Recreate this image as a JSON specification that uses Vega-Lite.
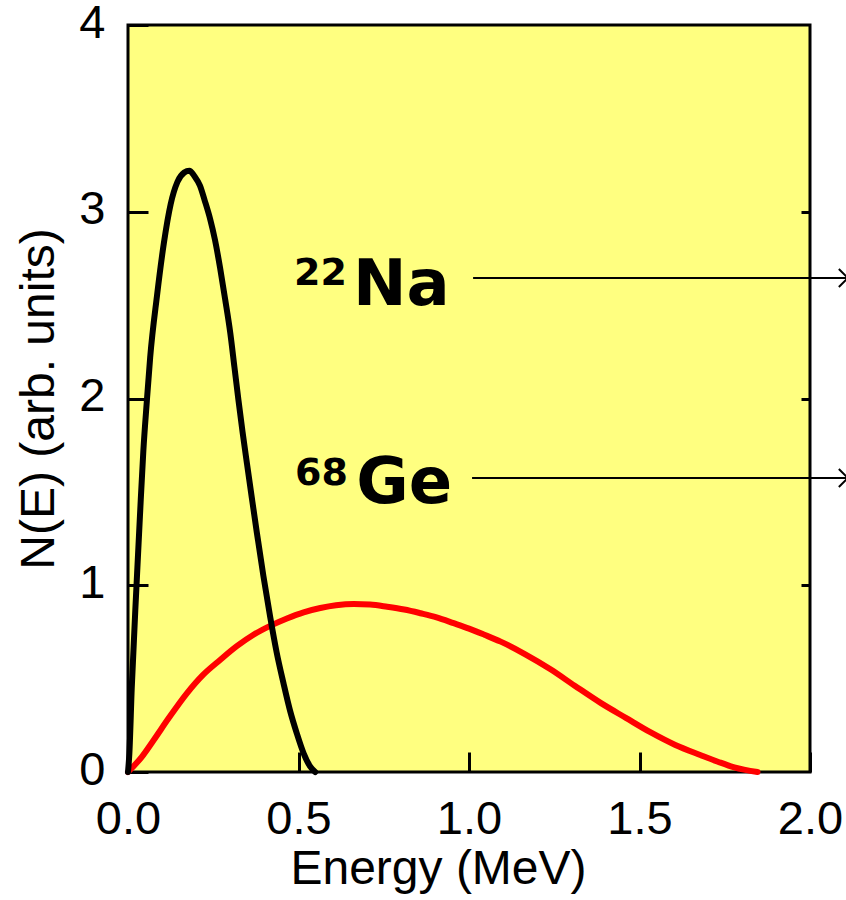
{
  "$schema": "https://vega.github.io/schema/vega-lite/v6.json",
  "width": 682,
  "height": 747,
  "autosize": "none",
  "padding": {"left": 128, "top": 25, "right": 36, "bottom": 128},
  "background": "white",
  "config": {
    "view": {"fill": "#FFFF80", "stroke": "black", "strokeWidth": 3},
    "axis": {
      "grid": false,
      "domain": false,
      "tickColor": "black",
      "tickWidth": 3,
      "labelColor": "black",
      "labelFont": "Liberation Sans",
      "labelFontSize": 47,
      "labelFlush": false,
      "labelOverlap": false,
      "labelBound": false,
      "titleColor": "black",
      "titleFont": "Liberation Sans",
      "titleFontWeight": "normal"
    }
  },
  "datasets": {
    "ge": [
      {"E": 0, "N": 0}, {"E": 0.04, "N": 0.08}, {"E": 0.075, "N": 0.17}, {"E": 0.12, "N": 0.29},
      {"E": 0.172, "N": 0.42}, {"E": 0.22, "N": 0.52}, {"E": 0.27, "N": 0.6}, {"E": 0.32, "N": 0.675},
      {"E": 0.368, "N": 0.735}, {"E": 0.42, "N": 0.785}, {"E": 0.466, "N": 0.822}, {"E": 0.515, "N": 0.855},
      {"E": 0.564, "N": 0.878}, {"E": 0.61, "N": 0.893}, {"E": 0.662, "N": 0.9}, {"E": 0.71, "N": 0.897},
      {"E": 0.76, "N": 0.885}, {"E": 0.81, "N": 0.87}, {"E": 0.858, "N": 0.85}, {"E": 0.905, "N": 0.828},
      {"E": 0.955, "N": 0.797}, {"E": 1.0, "N": 0.768}, {"E": 1.045, "N": 0.735}, {"E": 1.093, "N": 0.698},
      {"E": 1.165, "N": 0.63}, {"E": 1.239, "N": 0.55}, {"E": 1.31, "N": 0.462}, {"E": 1.386, "N": 0.37},
      {"E": 1.46, "N": 0.29}, {"E": 1.533, "N": 0.212}, {"E": 1.605, "N": 0.145}, {"E": 1.68, "N": 0.09},
      {"E": 1.73, "N": 0.055}, {"E": 1.778, "N": 0.025}, {"E": 1.846, "N": 0.0}
    ],
    "na": [
      {"E": 0, "N": 0}, {"E": 0.004, "N": 0.1}, {"E": 0.011, "N": 0.45}, {"E": 0.025, "N": 1.0},
      {"E": 0.035, "N": 1.37}, {"E": 0.045, "N": 1.72}, {"E": 0.055, "N": 1.98}, {"E": 0.065, "N": 2.22},
      {"E": 0.085, "N": 2.55}, {"E": 0.105, "N": 2.83}, {"E": 0.125, "N": 3.04}, {"E": 0.145, "N": 3.16},
      {"E": 0.165, "N": 3.21}, {"E": 0.18, "N": 3.22}, {"E": 0.195, "N": 3.19}, {"E": 0.211, "N": 3.14},
      {"E": 0.225, "N": 3.06}, {"E": 0.241, "N": 2.96}, {"E": 0.255, "N": 2.85}, {"E": 0.27, "N": 2.7},
      {"E": 0.285, "N": 2.53}, {"E": 0.3, "N": 2.35}, {"E": 0.312, "N": 2.17}, {"E": 0.324, "N": 1.99},
      {"E": 0.336, "N": 1.82}, {"E": 0.349, "N": 1.65}, {"E": 0.363, "N": 1.47}, {"E": 0.378, "N": 1.28},
      {"E": 0.397, "N": 1.05}, {"E": 0.417, "N": 0.83}, {"E": 0.436, "N": 0.64}, {"E": 0.456, "N": 0.475},
      {"E": 0.475, "N": 0.33}, {"E": 0.495, "N": 0.207}, {"E": 0.515, "N": 0.1}, {"E": 0.534, "N": 0.03},
      {"E": 0.549, "N": 0}
    ],
    "main": [
      {"text": "Na", "E": 0.66, "N": 2.5},
      {"text": "Ge", "E": 0.669, "N": 1.44}
    ],
    "sup": [
      {"text": "22", "E": 0.487, "N": 2.608},
      {"text": "68", "E": 0.49, "N": 1.537}
    ],
    "arrows": [
      {"label": "22Na", "E1": 1.012, "E2": 2.111, "N": 2.645},
      {"label": "68Ge", "E1": 1.009, "E2": 2.111, "N": 1.574}
    ]
  },
  "layer": [
    {
      "data": {"name": "ge"},
      "mark": {"type": "line", "color": "#FF0000", "strokeWidth": 6, "strokeJoin": "round", "strokeCap": "round", "interpolate": "monotone"},
      "encoding": {
        "x": {
          "field": "E", "type": "quantitative",
          "scale": {"domain": [0, 2], "nice": false, "zero": false},
          "axis": {
            "values": [0, 0.5, 1, 1.5, 2], "format": ".1f",
            "tickSize": -20, "labelBaseline": "alphabetic", "labelPadding": 81,
            "title": "Energy (MeV)", "titleFontSize": 48,
            "titleX": 310, "titleY": 111, "titleBaseline": "alphabetic", "titleAlign": "center"
          }
        },
        "y": {
          "field": "N", "type": "quantitative",
          "scale": {"domain": [0, 4], "nice": false, "zero": false},
          "axis": {
            "values": [0, 1, 2, 3, 4], "format": "d",
            "tickSize": -20, "labelPadding": 43, "labelBaseline": "middle", "labelOffset": -2,
            "title": "N(E) (arb. units)", "titleFontSize": 48,
            "titleX": -75, "titleY": 373.5, "titleBaseline": "alphabetic", "titleAlign": "center", "titleAngle": -90
          }
        }
      }
    },
    {
      "data": {"name": "na"},
      "mark": {"type": "line", "color": "black", "strokeWidth": 6, "strokeJoin": "round", "strokeCap": "round", "interpolate": "monotone"},
      "encoding": {
        "x": {"field": "E", "type": "quantitative"},
        "y": {"field": "N", "type": "quantitative", "axis": null}
      }
    },
    {
      "data": {"name": "arrows"},
      "mark": {"type": "rule", "color": "black", "strokeWidth": 2},
      "encoding": {
        "x": {"field": "E1", "type": "quantitative"},
        "x2": {"field": "E2"},
        "y": {
          "field": "N", "type": "quantitative",
          "axis": {"orient": "right", "values": [1, 2, 3], "tickSize": -9, "labels": false, "title": null}
        }
      }
    },
    {
      "data": {"name": "arrows"},
      "mark": {"type": "point", "shape": "M-1,-1L0,0L-1,1", "size": 324, "filled": false, "color": "black", "strokeWidth": 2, "opacity": 1},
      "encoding": {
        "x": {"field": "E2", "type": "quantitative"},
        "y": {"field": "N", "type": "quantitative", "axis": null}
      }
    },
    {
      "data": {"name": "main"},
      "mark": {"type": "text", "font": "DejaVu Sans", "fontWeight": "bold", "fontSize": 64, "align": "left", "baseline": "alphabetic", "color": "black"},
      "encoding": {
        "x": {"field": "E", "type": "quantitative"},
        "y": {"field": "N", "type": "quantitative", "axis": null},
        "text": {"field": "text"}
      }
    },
    {
      "data": {"name": "sup"},
      "mark": {"type": "text", "font": "DejaVu Sans", "fontWeight": "bold", "fontSize": 38, "align": "left", "baseline": "alphabetic", "color": "black"},
      "encoding": {
        "x": {"field": "E", "type": "quantitative"},
        "y": {"field": "N", "type": "quantitative", "axis": null},
        "text": {"field": "text"}
      }
    }
  ],
  "resolve": {"axis": {"y": "independent"}}
}
